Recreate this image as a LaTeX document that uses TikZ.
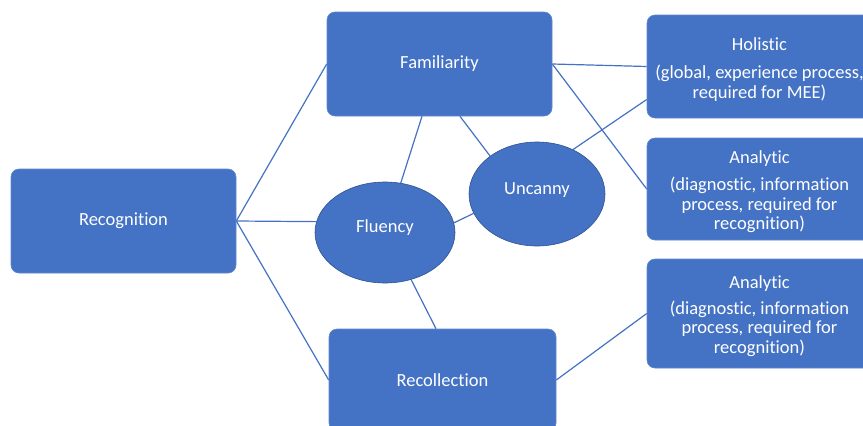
\documentclass[tikz,border=0pt]{standalone}
\usepackage{fontspec}
\setmainfont{Carlito}[Ligatures=NoCommon]
\usetikzlibrary{shapes.geometric,calc}
\pgfdeclarelayer{background}
\pgfsetlayers{background,main}
\definecolor{accent}{HTML}{4472C4}
\definecolor{accentdark}{HTML}{2F528F}
\newcommand{\topstrut}{\rule{0pt}{18.5pt}}
\begin{document}
\begin{tikzpicture}[x=1pt,y=-1pt,
  font=\fontsize{18.5}{19.5}\selectfont,
  box/.style={rectangle,rounded corners=8pt,fill=accent,draw=accent!85!white,line width=0.6pt,
    text=white,inner sep=0pt,minimum width=225pt,align=center},
  oval/.style={ellipse,fill=accent,draw=accentdark,line width=0.6pt,text=white,inner sep=0pt,
    text height=0pt,text depth=0pt},
  link/.style={draw=accent,line width=1.2pt}]
\useasboundingbox (0,0) rectangle (863,426);
\begin{pgfonlayer}{background}
\fill[white] (0,0) rectangle (863,426);
\end{pgfonlayer}
\clip (0,0) rectangle (863,426);

\node[box,minimum height=104pt] (rec) at (123.5,221) {Recognition};
\node[box,minimum height=104pt] (fam) at (439.5,64) {Familiarity};
\node[box,minimum width=227pt,minimum height=102pt] (rcl) at (442.5,380) {Recollection};
\node[box,minimum height=103pt] (hol) at (759.5,66.5)
  {\topstrut Holistic\\[9pt](global, experience process,\\required for MEE)};
\node[box,minimum height=102pt] (an1) at (759.5,189)
  {\topstrut Analytic\\[8pt](diagnostic, information\\process, required for\\recognition)};
\node[box,minimum height=109pt] (an2) at (759.5,313.5)
  {\topstrut Analytic\\[6pt](diagnostic, information\\process, required for\\recognition)};
\node[oval,minimum width=140pt,minimum height=101pt] (flu) at (385,232.5) {Fluency};
\node[oval,minimum width=136pt,minimum height=104pt] (unc) at (537,194) {Uncanny};

\begin{pgfonlayer}{background}
\draw[link] (rec.east) -- (fam.west);
\draw[link] (rec.east) -- (flu.171);
\draw[link] (rec.east) -- (rcl.west);
\draw[link] ([xshift=-17.5pt]fam.south) -- (flu.center);
\draw[link] ([xshift=20.5pt]fam.south) -- (unc.141);
\draw[link] (fam.east) -- (hol.west);
\draw[link] (fam.east) -- (an1.west);
\draw[link] (unc.51) -- ([yshift=-33pt]hol.west);
\draw[link] (flu.8) -- (unc.197);
\draw[link] (flu.-61) -- ([xshift=-6.5pt]rcl.north);
\draw[link] (rcl.east) -- (an2.west);
\end{pgfonlayer}
\end{tikzpicture}
\end{document}
